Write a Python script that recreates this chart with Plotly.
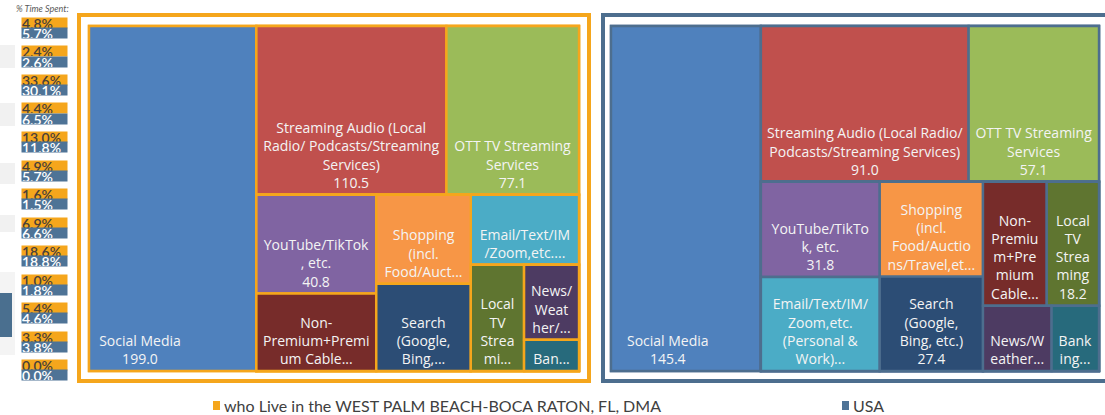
import plotly.graph_objects as go

W, H = 1105, 415

# ---------------- data ----------------
keys = ["social", "audio", "ott", "youtube", "cable", "shopping",
        "search", "email", "localtv", "news", "banking"]
categories = ["Social Media",
              "Streaming Audio (Local Radio/ Podcasts/Streaming Services)",
              "OTT TV Streaming Services",
              "YouTube/TikTok, etc.",
              "Non-Premium+Premium Cable...",
              "Shopping (incl. Food/Auctions/Travel,etc.)",
              "Search (Google, Bing, etc.)",
              "Email/Text/IM/Zoom,etc. (Personal & Work)",
              "Local TV Streaming",
              "News/Weather/...",
              "Banking..."]
wpb_minutes = [199.0, 110.5, 77.1, 40.8, 32.0, 29.0, 28.4, 26.1, 19.5, 14.2, 5.9]
usa_minutes = [145.4, 91.0, 57.1, 31.8, 22.2, 27.5, 27.4, 31.4, 18.2, 12.6, 8.7]
cat_colors = ["#4F81BD", "#C0504D", "#9BBB59", "#8064A2", "#772C2A", "#F79646",
              "#2C4D75", "#4BACC6", "#5F7530", "#4D3B62", "#276A7C"]

# wrapped / truncated labels as displayed in each treemap
wpb_labels = ["Social Media",
              "Streaming Audio (Local<br>Radio/ Podcasts/Streaming<br>Services)",
              "OTT TV Streaming<br>Services",
              "YouTube/TikTok<br>, etc.",
              "Non-<br>Premium+Premi<br>um Cable...",
              "Shopping<br>(incl.<br>Food/Auct...",
              "Search<br>(Google,<br>Bing,...",
              "Email/Text/IM<br>/Zoom,etc....",
              "Local<br>TV<br>Strea<br>mi...",
              "News/<br>Weat<br>her/...",
              "Ban..."]
wpb_show_value = [True, True, True, True, False, False, False, False, False, False, False]
usa_labels = ["Social Media",
              "Streaming Audio (Local Radio/<br>Podcasts/Streaming Services)",
              "OTT TV Streaming<br>Services",
              "YouTube/TikTo<br>k, etc.",
              "Non-<br>Premiu<br>m+Pre<br>mium<br>Cable...",
              "Shopping<br>(incl.<br>Food/Auctio<br>ns/Travel,et...",
              "Search<br>(Google,<br>Bing, etc.)",
              "Email/Text/IM/<br>Zoom,etc.<br>(Personal &<br>Work)...",
              "Local<br>TV<br>Strea<br>ming",
              "News/W<br>eather...",
              "Bank<br>ing..."]
usa_show_value = [True, True, True, True, False, False, True, False, True, False, False]

# hierarchy (node id, parent id) - grouping mirrors the tile arrangement
wpb_tree = [("root", ""), ("social", "root"), ("g1", "root"),
            ("audio", "g1"), ("ott", "g1"), ("g2", "g1"),
            ("g34", "g2"), ("g5", "g2"),
            ("gy", "g34"), ("gsh", "g34"),
            ("youtube", "gy"), ("cable", "gy"),
            ("shopping", "gsh"), ("search", "gsh"),
            ("email", "g5"), ("g8", "g5"),
            ("localtv", "g8"), ("g7", "g8"),
            ("news", "g7"), ("banking", "g7")]
usa_tree = [("root", ""), ("social", "root"), ("g1", "root"),
            ("audio", "g1"), ("ott", "g1"), ("g2", "g1"),
            ("g34", "g2"), ("g5", "g2"),
            ("g3", "g34"), ("g4", "g34"),
            ("youtube", "g3"), ("email", "g3"),
            ("shopping", "g4"), ("search", "g4"),
            ("g6", "g5"), ("g7", "g5"),
            ("cable", "g6"), ("localtv", "g6"),
            ("news", "g7"), ("banking", "g7")]

# % time spent strip
pct_wpb = [4.8, 2.4, 33.6, 4.4, 13.0, 4.9, 1.6, 6.9, 18.6, 1.0, 5.4, 3.3, 0.0]
pct_usa = [5.7, 2.6, 30.1, 6.5, 11.8, 5.7, 1.5, 6.6, 18.8, 1.8, 4.6, 3.8, 0.0]

legend_wpb = "who Live in the WEST PALM BEACH-BOCA RATON, FL, DMA"
legend_usa = "USA"

# ---------------- styling ----------------
ORANGE = "#F5A61C"
SLATE = "#4D6E8E"
STRIP_BLUE = "#4E7396"
FONT = "Open Sans"
NBSP = "\u00a0"


def px(x):
    return x / W


def py(y):
    return 1 - y / H


def build(tree, minutes, labels, show_value, line_color, left_pad):
    idx = {k: i for i, k in enumerate(keys)}
    ids, parents, values, colors, texts = [], [], [], [], []
    for nid, par in tree:
        ids.append(nid)
        parents.append(par)
        if nid in idx:
            i = idx[nid]
            values.append(minutes[i])
            colors.append(cat_colors[i])
            lines = labels[i].split("<br>")
            if show_value[i]:
                lines.append(f"{minutes[i]:.1f}")
            if nid == "social":
                lines = [ln + NBSP * left_pad for ln in lines]
            texts.append("<br>".join(lines))
        else:
            values.append(0)
            colors.append(line_color)
            texts.append("")
    return ids, parents, values, colors, texts


fig = go.Figure()

for (tree, minutes, labels, show, lc, dom, ratio, lpad) in [
    (wpb_tree, wpb_minutes, wpb_labels, wpb_show_value, ORANGE,
     dict(x=[px(89), px(579)], y=[py(371), py(26)]), 1.0, 18),
    (usa_tree, usa_minutes, usa_labels, usa_show_value, SLATE,
     dict(x=[px(611), px(1099)], y=[py(371), py(26)]), 1.22, 10),
]:
    ids, parents, values, colors, texts = build(tree, minutes, labels, show, lc, lpad)
    fig.add_trace(go.Treemap(
        ids=ids, parents=parents, values=values, labels=ids, text=texts,
        branchvalues="remainder", sort=False,
        texttemplate="%{text}", textposition="bottom center",
        textfont=dict(family=FONT, size=14, color="#F4F4F4"),
        marker=dict(colors=colors, line=dict(color=lc, width=2.4),
                    pad=dict(t=0, l=0, r=0, b=0), depthfade=False),
        tiling=dict(packing="squarify", squarifyratio=ratio, pad=0),
        pathbar=dict(visible=False),
        hoverinfo="skip",
        domain=dom,
    ))

shapes = []
annotations = []

# frames around each treemap
shapes.append(dict(type="rect", xref="paper", yref="paper",
                   x0=px(79), x1=px(589), y0=py(381), y1=py(15),
                   line=dict(color=ORANGE, width=4)))
shapes.append(dict(type="rect", xref="paper", yref="paper",
                   x0=px(603), x1=px(1112), y0=py(381), y1=py(15),
                   line=dict(color=SLATE, width=4)))

# faint cut-off elements at the far left
for (y0, y1) in [(45, 68), (103, 126), (163, 184), (215, 232)]:
    shapes.append(dict(type="rect", xref="paper", yref="paper",
                       x0=0, x1=px(15), y0=py(y1), y1=py(y0),
                       line=dict(width=0), fillcolor="#F1F1F1", layer="below"))
shapes.append(dict(type="rect", xref="paper", yref="paper",
                   x0=0, x1=px(15), y0=py(355), y1=py(272),
                   line=dict(width=0), fillcolor="#F4F4F4", layer="below"))
shapes.append(dict(type="rect", xref="paper", yref="paper",
                   x0=0, x1=px(12), y0=py(337), y1=py(293),
                   line=dict(width=0), fillcolor="#4A6F8F", layer="below"))

# % time spent strip
annotations.append(dict(xref="paper", yref="paper", x=px(14), y=py(8),
                        xanchor="left", yanchor="middle", showarrow=False,
                        text="<i>% Time Spent:</i>",
                        font=dict(family="Lato", size=9, color="#595959")))
for i, (a, b) in enumerate(zip(pct_wpb, pct_usa)):
    yc = 23 + 28.5 * i
    annotations.append(dict(xref="paper", yref="paper", x=px(21), y=py(yc),
                            xanchor="left", yanchor="middle", showarrow=False,
                            text=f"{a:.1f}%", width=45, height=10, align="left",
                            bgcolor=ORANGE, borderpad=0,
                            font=dict(family="Lato", size=14, weight=600,
                                      color="#4A4038")))
    annotations.append(dict(xref="paper", yref="paper", x=px(21), y=py(yc + 10),
                            xanchor="left", yanchor="middle", showarrow=False,
                            text=f"{b:.1f}%", width=45, height=10, align="left",
                            bgcolor=STRIP_BLUE, borderpad=0,
                            font=dict(family="Lato", size=14, weight=600,
                                      color="#FFFFFF")))

# bottom legend
shapes.append(dict(type="rect", xref="paper", yref="paper",
                   x0=px(213), x1=px(220), y0=py(410), y1=py(401),
                   line=dict(width=0), fillcolor=ORANGE))
shapes.append(dict(type="rect", xref="paper", yref="paper",
                   x0=px(842), x1=px(849), y0=py(410), y1=py(401),
                   line=dict(width=0), fillcolor=STRIP_BLUE))
annotations.append(dict(xref="paper", yref="paper", x=px(222), y=py(405.5),
                        xanchor="left", yanchor="middle", showarrow=False,
                        text=legend_wpb,
                        font=dict(family="Lato", size=16, color="#404040")))
annotations.append(dict(xref="paper", yref="paper", x=px(851), y=py(405.5),
                        xanchor="left", yanchor="middle", showarrow=False,
                        text=legend_usa,
                        font=dict(family="Lato", size=16, color="#404040")))

fig.update_layout(
    width=W, height=H,
    margin=dict(l=0, r=0, t=0, b=0),
    paper_bgcolor="white", plot_bgcolor="white",
    uniformtext=dict(minsize=14, mode="show"),
    shapes=shapes, annotations=annotations,
    showlegend=False,
)

fig.write_html("out.html",
               config={"displayModeBar": False},
               post_script="document.body.style.margin='0';"
                           "document.body.style.overflow='hidden';")
